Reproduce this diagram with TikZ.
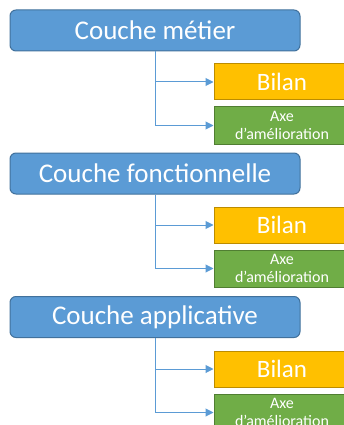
\documentclass[tikz,border=0pt]{standalone}
\usepackage{fontspec}
\setmainfont{Carlito}
\usetikzlibrary{arrows.meta}

\definecolor{coucheblue}{HTML}{5B9BD5}
\definecolor{coucheborder}{HTML}{41719C}
\definecolor{bilanfill}{HTML}{FFC000}
\definecolor{bilanborder}{HTML}{BC8C00}
\definecolor{axefill}{HTML}{70AD47}
\definecolor{axeborder}{HTML}{507E32}

\tikzset{
  couche/.style={draw=coucheborder, fill=coucheblue, line width=1pt, rounded corners=6pt,
    minimum width=290pt, minimum height=41pt, inner sep=0pt, text=white,
    font=\fontsize{27}{30}\selectfont},
  bilan/.style={draw=bilanborder, fill=bilanfill, line width=1pt,
    minimum width=136pt, minimum height=36pt, inner sep=0pt, text=white,
    font=\fontsize{25}{28}\selectfont},
  axe/.style={draw=axeborder, fill=axefill, line width=1pt,
    minimum width=136pt, minimum height=37pt, inner sep=0pt, text=white, align=center,
    font=\fontsize{16}{18}\selectfont},
  fleche/.style={draw=coucheblue, line width=1pt, -{Triangle[length=8pt,width=8pt]}}
}

\begin{document}
\begin{tikzpicture}[x=1pt,y=-1pt]
\clip (0,0) rectangle (344,425);
\useasboundingbox (0,0) rectangle (344,425);

% couche metier
\node[couche] (metier) at (155,30.5) {Couche métier};
\node[bilan] (bilan1) at (282,82) {Bilan};
\node[axe] (axe1) at (282,125.5) {Axe\\d’amélioration};
\draw[fleche] (metier.south) |- (bilan1.west);
\draw[fleche] (metier.south) |- (axe1.west);

% couche fonctionnelle
\node[couche] (fonctionnelle) at (155,173.5) {Couche fonctionnelle};
\node[bilan] (bilan2) at (282,225) {Bilan};
\node[axe] (axe2) at (282,268.5) {Axe\\d’amélioration};
\draw[fleche] (fonctionnelle.south) |- (bilan2.west);
\draw[fleche] (fonctionnelle.south) |- (axe2.west);

% couche applicative
\node[couche] (applicative) at (155,317) {Couche applicative};
\node[bilan] (bilan3) at (282,369) {Bilan};
\node[axe] (axe3) at (282,412.5) {Axe\\d’amélioration};
\draw[fleche] (applicative.south) |- (bilan3.west);
\draw[fleche] (applicative.south) |- (axe3.west);

\end{tikzpicture}
\end{document}
